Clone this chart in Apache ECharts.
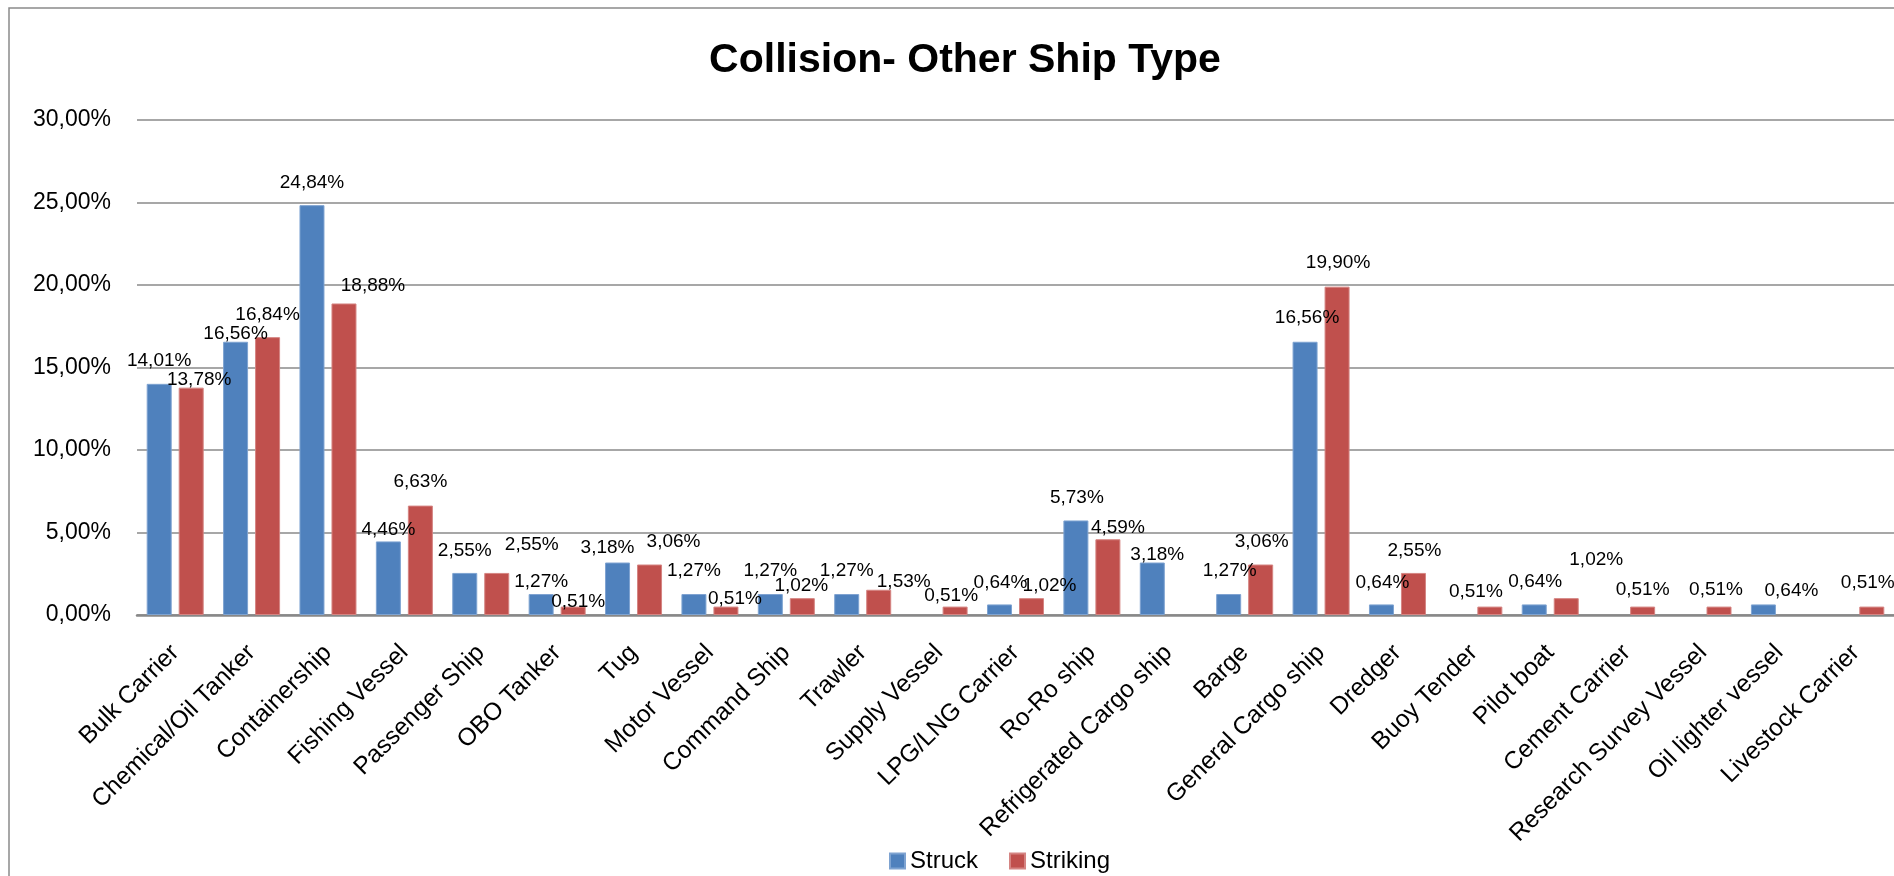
<!DOCTYPE html>
<html>
<head>
<meta charset="utf-8">
<title>Collision- Other Ship Type</title>
<script src="https://cdn.jsdelivr.net/npm/echarts@6/dist/echarts.min.js"></script>
<style>
  html, body { margin: 0; padding: 0; background: #fff; }
  #chart { width: 1894px; height: 876px; }
</style>
</head>
<body>
<div id="chart"></div>
<script>
// Ship types involved in collisions, share of cases (%)
const categories = [
  'Bulk Carrier', 'Chemical/Oil Tanker', 'Containership', 'Fishing Vessel',
  'Passenger Ship', 'OBO Tanker', 'Tug', 'Motor Vessel', 'Command Ship',
  'Trawler', 'Supply Vessel', 'LPG/LNG Carrier', 'Ro-Ro ship',
  'Refrigerated Cargo ship', 'Barge', 'General Cargo ship', 'Dredger',
  'Buoy Tender', 'Pilot boat', 'Cement Carrier', 'Research Survey Vessel',
  'Oil lighter vessel', 'Livestock Carrier'
];

const struck = [
  14.01, 16.56, 24.84, 4.46, 2.55, 1.27, 3.18, 1.27, 1.27, 1.27, 0, 0.64,
  5.73, 3.18, 1.27, 16.56, 0.64, 0, 0.64, 0, 0, 0.64, 0
];

const striking = [
  13.78, 16.84, 18.88, 6.63, 2.55, 0.51, 3.06, 0.51, 1.02, 1.53, 0.51, 1.02,
  4.59, 0, 3.06, 19.90, 2.55, 0.51, 1.02, 0.51, 0.51, 0, 0.51
];

const seriesNames = ['Struck', 'Striking'];
const yTicks = [0, 5, 10, 15, 20, 25, 30];

// Hand-placed value label nudges [dx, dy] in pixels
const struckLabelNudge = [
  [0, -9], [0, 7], [0, -8], [0, 3], [0, -8], [0, 2], [-10, 0], [0, -9],
  [0, -9], [0, -9], [0, 0], [1, -7], [1, -8], [5, 7], [1, -9], [2, -9],
  [1, -7], [0, 0], [1, -8], [0, 0], [0, 0], [28, 1], [0, 0]
];
const strikingLabelNudge = [
  [8, 7], [0, -8], [29, -3], [0, -9], [35, -14], [5, 10], [24, -8], [9, 7],
  [-1, 2], [25, 7], [-4, 4], [18, 2], [10, 3], [0, 0], [1, -8], [1, -9],
  [1, -8], [-14, 0], [30, -24], [0, -2], [-3, -2], [0, 0], [-4, -9]
];

const FONT = "'Liberation Sans', Arial, sans-serif";
const pct = v => Number(v).toFixed(2).replace('.', ',') + '%';

// Zero-height bars get no outline and no value label
function barData(values, nudges) {
  return values.map((v, i) => ({
    value: v,
    itemStyle: v > 0 ? {} : { borderWidth: 0 },
    label: { show: v > 0, offset: nudges[i] }
  }));
}

const chart = echarts.init(document.getElementById('chart'), null, { renderer: 'canvas' });

const option = {
  backgroundColor: '#ffffff',
  animation: false,
  title: {
    text: 'Collision- Other Ship Type',
    left: 960,
    top: 35,
    textAlign: 'center',
    textStyle: { fontFamily: FONT, fontSize: 41, fontWeight: 'bold', color: '#000' }
  },
  graphic: [{
    type: 'rect',
    shape: { x: 9, y: 8, width: 2000, height: 1000 },
    style: { fill: 'none', stroke: '#8a8a8a', lineWidth: 1.5 },
    silent: true,
    z: 0
  }],
  legend: {
    data: seriesNames,
    left: 884,
    top: 844,
    itemWidth: 15,
    itemHeight: 15,
    itemGap: 31,
    icon: 'rect',
    textStyle: { fontFamily: FONT, fontSize: 24, color: '#000' }
  },
  grid: {
    left: 137,
    top: 120,
    width: 23 * 77,
    height: 495,
    containLabel: false
  },
  xAxis: {
    type: 'category',
    data: categories,
    axisLine: { show: true, lineStyle: { color: '#888888', width: 2.5 } },
    axisTick: { show: false },
    axisLabel: {
      rotate: 45,
      interval: 0,
      margin: 34,
      fontFamily: FONT,
      fontSize: 24.5,
      color: '#000'
    }
  },
  yAxis: {
    type: 'value',
    min: yTicks[0],
    max: yTicks[yTicks.length - 1],
    interval: 5,
    axisLine: { show: false },
    axisTick: { show: false },
    splitLine: { lineStyle: { color: '#8a8a8a', width: 1.5 } },
    axisLabel: {
      margin: 26,
      fontFamily: FONT,
      fontSize: 23,
      color: '#000',
      formatter: v => pct(v)
    }
  },
  series: [
    {
      name: seriesNames[0],
      type: 'bar',
      barWidth: 25,
      barGap: '28%',
      data: barData(struck, struckLabelNudge),
      itemStyle: { color: '#4F81BD', borderColor: '#7ea3d1', borderWidth: 1 },
      label: {
        position: 'top',
        distance: 5,
        fontFamily: FONT,
        fontSize: 19,
        color: '#000',
        formatter: p => pct(p.value)
      },
      z: 3
    },
    {
      name: seriesNames[1],
      type: 'bar',
      barWidth: 25,
      barGap: '28%',
      data: barData(striking, strikingLabelNudge),
      itemStyle: { color: '#C0504D', borderColor: '#d58482', borderWidth: 1 },
      label: {
        position: 'top',
        distance: 5,
        fontFamily: FONT,
        fontSize: 19,
        color: '#000',
        formatter: p => pct(p.value)
      },
      z: 3
    }
  ]
};

chart.setOption(option);
</script>
</body>
</html>
